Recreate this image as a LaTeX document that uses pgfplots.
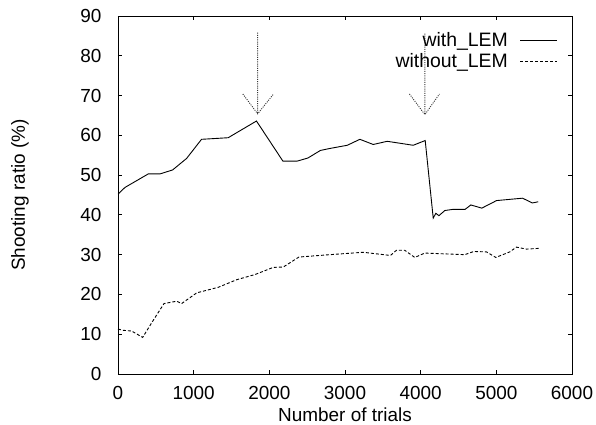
\documentclass[border=0pt]{standalone}
\usepackage{fontspec}
\setmainfont{Liberation Sans}
\usepackage{pgfplots}
\pgfplotsset{compat=1.18}

\begin{document}
\fontsize{19}{20}\selectfont
\begin{tikzpicture}
\begin{axis}[
    scale only axis,
    width=454bp, height=358bp,
    xmin=0, xmax=6000, ymin=0, ymax=90,
    xtick={0,1000,...,6000},
    ytick={0,10,...,90},
    tick pos=both,
    tick align=inside,
    major tick length=4bp,
    minor tick num=0,
    axis line style={line width=0.9bp},
    every tick/.style={black, line width=0.9bp},
    /pgf/number format/assume math mode=true,
    /pgf/number format/1000 sep={},
    tick label style={font=\fontsize{19}{20}\selectfont},
    xticklabel style={anchor=base, yshift=-25.5bp, inner sep=0pt},
    yticklabel style={anchor=east, xshift=-10bp},
    xlabel={Number of trials},
    ylabel={Shooting ratio (\%)},
    xlabel style={at={(axis description cs:0.5,0)}, anchor=base, yshift=-47bp, inner sep=0pt},
    ylabel style={at={(axis description cs:0,0.5)}, anchor=base, yshift=93bp},
    label style={font=\fontsize{19}{20}\selectfont},
    legend plot pos=right,
    legend cell align=right,
    legend style={draw=none, fill=none, at={(1,1)}, anchor=north east,
        xshift=-12bp, yshift=-12bp, row sep=0pt, inner sep=2bp,
        font=\fontsize{19.5}{20}\selectfont,
        /tikz/every odd column/.append style={column sep=10bp}},
    legend image code/.code={\draw[#1] (0bp,0bp) -- (37bp,0bp);},
]
\addplot[black, line width=0.9bp] coordinates {
    (0,45.2) (92,46.9) (400,50.3) (555,50.3) (722,51.3) (907,54.2)
    (1104,59.0) (1456,59.4) (1830,63.6) (2180,53.5) (2365,53.5)
    (2510,54.3) (2675,56.2) (2800,56.7) (3030,57.5) (3197,59.0)
    (3373,57.7) (3558,58.5) (3902,57.5) (4060,58.7) (4166,39.2)
    (4201,40.4) (4241,39.8) (4320,41.1) (4430,41.4) (4588,41.4)
    (4663,42.5) (4808,41.7) (5003,43.6) (5347,44.2) (5475,43.0)
    (5554,43.3)
};
\addlegendentry{with\_LEM}
\addplot[black, line width=0.9bp, dash pattern=on 3bp off 2bp] coordinates {
    (0,11.3) (60,11.0) (181,10.8) (326,9.2) (466,13.5) (608,17.7)
    (775,18.3) (841,17.7) (1040,20.4) (1326,21.8) (1568,23.7)
    (1810,25.0) (2052,26.8) (2185,26.9) (2391,29.4) (2800,30.0)
    (3240,30.6) (3601,29.8) (3680,31.1) (3790,31.1) (3922,29.3)
    (4054,30.4) (4583,30.0) (4702,30.8) (4870,30.7) (4993,29.3)
    (5178,30.7) (5266,31.9) (5398,31.4) (5577,31.6)
};
\addlegendentry{without\_LEM}
% arrows marking the changes
\draw[black!80, line width=0.9bp, dash pattern=on 1bp off 1.2bp]
    (axis cs:1846,85.8) -- (axis cs:1846,65.4)
    (axis cs:1650,70.4) -- (axis cs:1846,65.4) -- (axis cs:2056,70.4);
\draw[black!80, line width=0.9bp, dash pattern=on 1bp off 1.2bp]
    (axis cs:4056,85.6) -- (axis cs:4056,65.2)
    (axis cs:3852,70.4) -- (axis cs:4056,65.2) -- (axis cs:4248,70.4);
\end{axis}
\pgfresetboundingbox
\path[use as bounding box] ([shift={(-118bp,-51bp)}]current axis.south west) rectangle ++(596bp,425bp);
\end{tikzpicture}
\end{document}
